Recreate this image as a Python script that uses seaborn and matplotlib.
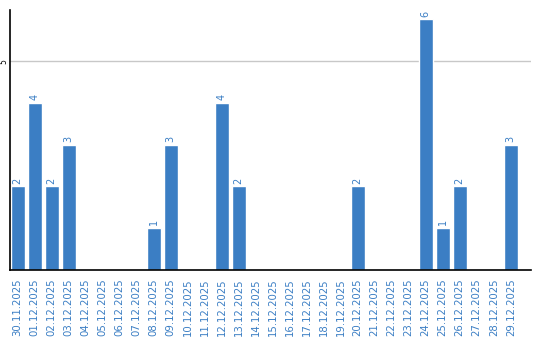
import matplotlib
matplotlib.use("Agg")
import matplotlib.pyplot as plt
import seaborn as sns
import pandas as pd

dates = ["30.11.2025", "01.12.2025", "02.12.2025", "03.12.2025", "04.12.2025",
         "05.12.2025", "06.12.2025", "07.12.2025", "08.12.2025", "09.12.2025",
         "10.12.2025", "11.12.2025", "12.12.2025", "13.12.2025", "14.12.2025",
         "15.12.2025", "16.12.2025", "17.12.2025", "18.12.2025", "19.12.2025",
         "20.12.2025", "21.12.2025", "22.12.2025", "23.12.2025", "24.12.2025",
         "25.12.2025", "26.12.2025", "27.12.2025", "28.12.2025", "29.12.2025"]
counts = [2, 4, 2, 3, 0, 0, 0, 0, 1, 3,
          0, 0, 4, 2, 0, 0, 0, 0, 0, 0,
          2, 0, 0, 0, 6, 1, 2, 0, 0, 3]

BLUE = "#3b7ec4"

sns.set_theme(style="white")
plt.rcParams['font.family'] = ['DejaVu Sans']

df = pd.DataFrame({"date": dates, "count": counts})

fig = plt.figure(figsize=(5.4, 3.4), dpi=100)
ax = fig.add_axes([0.0185, 0.206, 0.9645, 0.765])
sns.barplot(data=df, x="date", y="count", color=BLUE, saturation=1,
            width=0.82, ax=ax)

ax.set_xlim(-0.45, 30.18)
ax.set_ylim(0, 6.23)
ax.set_yticks([5])
ax.set_yticklabels(["5"], rotation=90, va="center", fontsize=5.5, color="black")
ax.yaxis.grid(True, color="#c8c8c8", linewidth=1)
ax.set_axisbelow(True)
ax.set_xlabel("")
ax.set_ylabel("")
ax.tick_params(axis="x", rotation=90, labelsize=7.3, labelcolor=BLUE, length=0, pad=6)
ax.tick_params(axis="y", length=0, pad=1)

for s in ["top", "right"]:
    ax.spines[s].set_visible(False)
for s in ["left", "bottom"]:
    ax.spines[s].set_color("black")
    ax.spines[s].set_linewidth(1.2)

labels = [str(v) if v > 0 else "" for v in counts]
ax.bar_label(ax.containers[0], labels=labels, rotation=90, fontsize=7,
             color=BLUE, padding=2)

fig.savefig("out.png", dpi=100)
